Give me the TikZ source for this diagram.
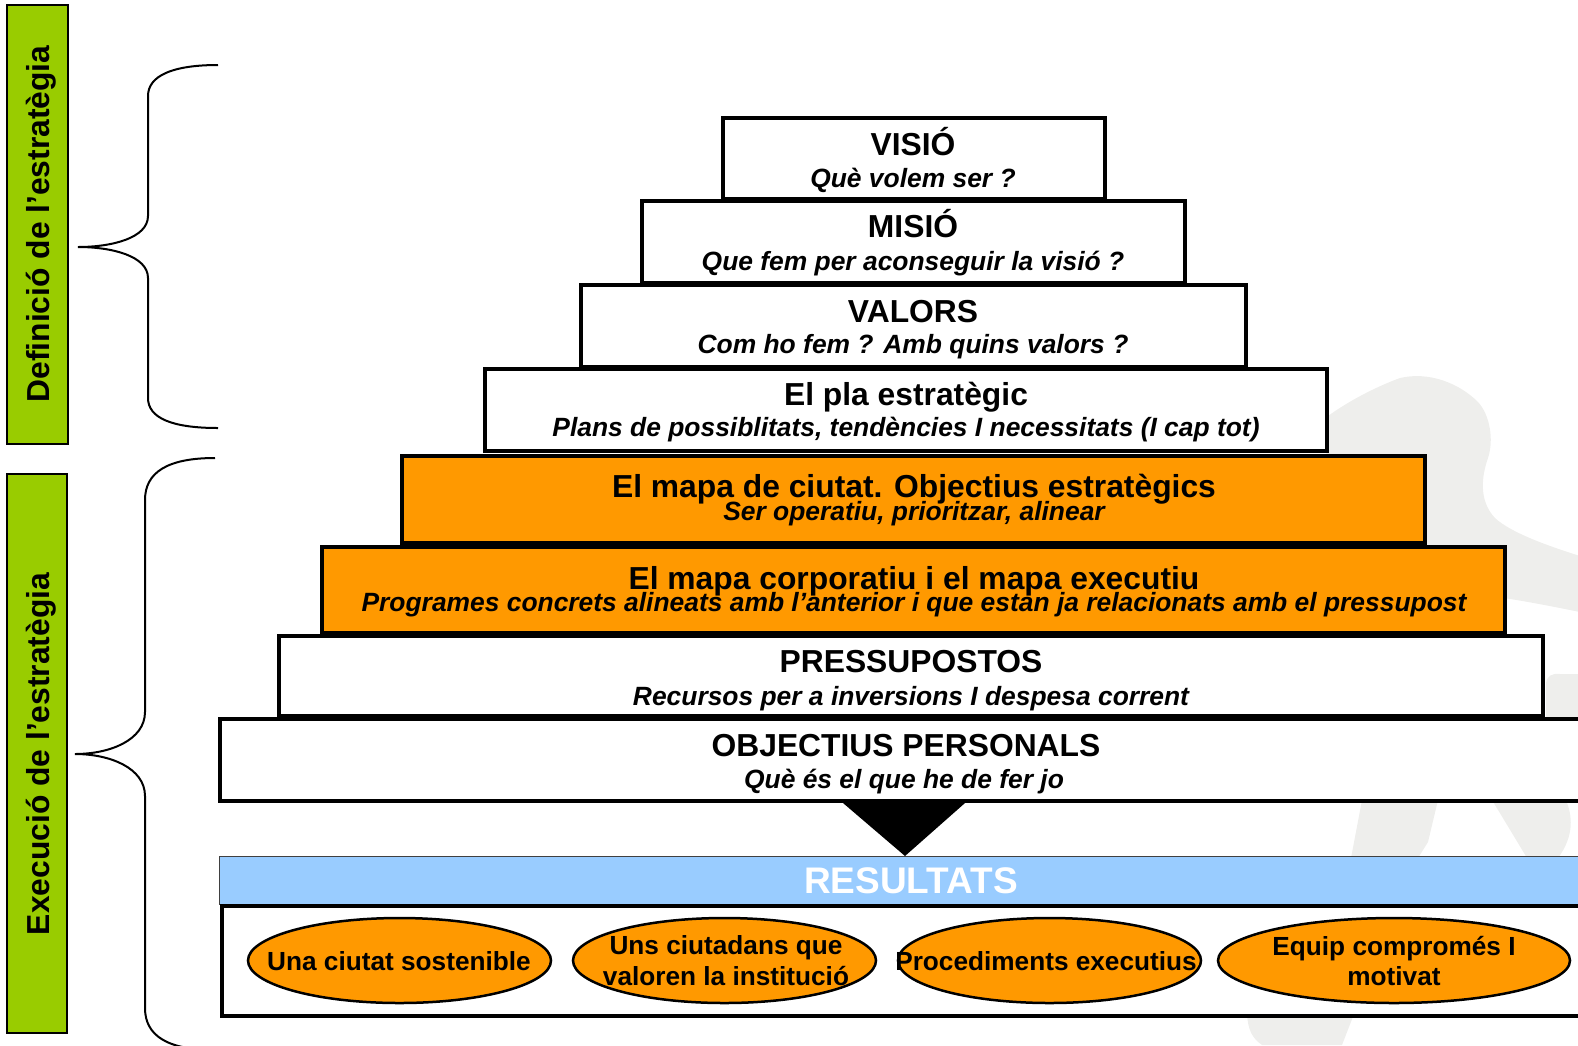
\documentclass[tikz,border=0pt]{standalone}
\usepackage{fontspec}
\setmainfont{Liberation Sans}
\usetikzlibrary{shapes.geometric}
\definecolor{org}{HTML}{FF9900}
\definecolor{grn}{HTML}{99CC00}
\definecolor{blu}{HTML}{99CCFF}
\definecolor{sil}{HTML}{EEEEEC}
\tikzset{
  pb/.style={draw=black, line width=4pt, fill=white, inner sep=0pt},
  ob/.style={pb, fill=org},
  ttl/.style={anchor=base, inner sep=0pt, font=\fontsize{31.8}{36}\selectfont\bfseries},
  sub/.style={anchor=base, inner sep=0pt, font=\fontsize{26.4}{30}\selectfont\bfseries\itshape},
  etxt/.style={anchor=base, inner sep=0pt, font=\fontsize{26.2}{30}\selectfont\bfseries},
  ell/.style={ellipse, draw=black, line width=2.5pt, fill=org, inner sep=0pt},
  grnbox/.style={draw=black, line width=2pt, fill=grn, inner sep=0pt},
  vlab/.style={anchor=base, rotate=90, inner sep=0pt, font=\fontsize{31.8}{36}\selectfont\bfseries},
  brc/.style={draw=black, line width=2pt},
}
\begin{document}
\begin{tikzpicture}[x=1pt,y=-1pt]
\useasboundingbox (0,0) rectangle (1578,1045);

% background silhouette
\fill[sil] (1328,416) .. controls (1350,400) and (1378,386) .. (1400,378)
  .. controls (1430,371) and (1460,384) .. (1478,402)
  .. controls (1490,415) and (1494,440) .. (1488,458)
  .. controls (1482,475) and (1478,500) .. (1495,518)
  .. controls (1510,532) and (1545,545) .. (1580,556) -- (1580,612)
  .. controls (1550,606) and (1520,600) .. (1490,596) -- (1320,596) -- cycle;
\fill[sil] (1546,720) -- (1546,683) .. controls (1547,676) and (1552,673) .. (1560,674) -- (1580,674) -- (1580,720) -- cycle;
\fill[sil] (1362,800) -- (1438,800) -- (1428,842) -- (1418,858) -- (1351,858) -- cycle;
\fill[sil] (1492,800) -- (1566,800) .. controls (1572,815) and (1575,835) .. (1558,858) -- (1527,858) -- cycle;
\fill[sil] (1247,1014) -- (1354,1014) -- (1342,1045) -- (1262,1045) .. controls (1252,1038) and (1248,1030) .. (1247,1014) -- cycle;

% green side labels
\node[grnbox, minimum width=61pt, minimum height=439pt] (g1) at (37.5,224.5) {};
\node[vlab] (g1t) at (49.5,224) {Definició de l’estratègia};
\node[grnbox, minimum width=60pt, minimum height=559pt] (g2) at (37,753.5) {};
\node[vlab] (g2t) at (49.5,754) {Execució de l’estratègia};

% braces
\draw[brc] (218,65) .. controls (172,65) and (148,76) .. (148,96) -- (148,216)
  .. controls (148,238) and (112,247) .. (78,247)
  .. controls (112,247) and (148,256) .. (148,278) -- (148,398)
  .. controls (148,418) and (172,428) .. (218,428);
\draw[brc] (215,458) .. controls (168,458) and (145,472) .. (145,500) -- (145,712)
  .. controls (145,740) and (110,754) .. (75,754)
  .. controls (110,754) and (145,768) .. (145,796) -- (145,1008)
  .. controls (145,1036) and (168,1050) .. (215,1050);

% pyramid
\node[pb, minimum width=382pt, minimum height=81pt] (visio) at (914,158.5) {};
\node[pb, minimum width=543pt, minimum height=82pt] (misio) at (913.5,242) {};
\node[pb, minimum width=665pt, minimum height=82pt] (valors) at (913.5,326) {};
\node[pb, minimum width=842pt, minimum height=82pt] (pla) at (906,410) {};
\node[ob, minimum width=1023pt, minimum height=87pt] (mapa) at (913.5,499.5) {};
\node[ob, minimum width=1183pt, minimum height=86pt] (corp) at (913.5,590) {};
\node[pb, minimum width=1264pt, minimum height=80pt] (press) at (911,676) {};
\node[pb, minimum width=1380pt, minimum height=82pt] (obj) at (910,760) {};

\node[ttl] (visioT) at (913,155) {VISIÓ};
\node[sub] (visioS) at (913,187) {Què volem ser ?};
\node[ttl] (misioT) at (913,237) {MISIÓ};
\node[sub] (misioS) at (913,270) {Que fem per aconseguir la visió ?};
\node[ttl] (valT) at (913,322) {VALORS};
\node[sub] (valS) at (913,353) {Com ho fem ? Amb quins valors ?};
\node[ttl] (plaT) at (906,405) {El pla estratègic};
\node[sub] (plaS) at (906,436) {Plans de possiblitats, tendències I necessitats (I cap tot)};
\node[ttl] (mapaT) at (914,497) {El mapa de ciutat. Objectius estratègics};
\node[sub] (mapaS) at (914,520) {Ser operatiu, prioritzar, alinear};
\node[ttl] (corpT) at (914,589) {El mapa corporatiu i el mapa executiu};
\node[sub] (corpS) at (914,611) {Programes concrets alineats amb l’anterior i que estan ja relacionats amb el pressupost};
\node[ttl] (pressT) at (911,672) {PRESSUPOSTOS};
\node[sub] (pressS) at (911,705) {Recursos per a inversions I despesa corrent};
\node[ttl] (objT) at (906,756) {OBJECTIUS PERSONALS};
\node[sub] (objS) at (904,788) {Què és el que he de fer jo};

% results
\node[draw=black!75, line width=1pt, fill=blu, minimum width=1380pt, minimum height=48pt, inner sep=0pt] (resbar) at (909,880) {};
\node[draw=black, line width=4.5pt, fill=white, minimum width=1378pt, minimum height=110pt, inner sep=0pt] (resbox) at (911,961) {};
\node[anchor=base, inner sep=0pt, text=white, font=\fontsize{37}{40}\selectfont\bfseries] (resT) at (911,893) {RESULTATS};

% arrow triangle from objectives to results
\coordinate (tl) at (843,803);
\coordinate (tr) at (965,803);
\coordinate (tip) at (905,856);
\fill[black] (tl) -- (tr) -- (tip) -- cycle;

% result ellipses
\node[ell, minimum width=303pt, minimum height=85pt] (e1) at (399.5,960.5) {};
\node[ell, minimum width=303pt, minimum height=85pt] (e2) at (724.5,960.5) {};
\node[ell, minimum width=303pt, minimum height=85pt] (e3) at (1049.5,960.5) {};
\node[ell, minimum width=352pt, minimum height=85pt] (e4) at (1394,960.5) {};
\node[etxt] (e1t) at (399,970) {Una ciutat sostenible};
\node[etxt] (e2a) at (726,954) {Uns ciutadans que};
\node[etxt] (e2b) at (726,985) {valoren la institució};
\node[etxt] (e3t) at (1046,970) {Procediments executius};
\node[etxt] (e4a) at (1394,955) {Equip compromés I};
\node[etxt] (e4b) at (1394,985) {motivat};
\end{tikzpicture}
\end{document}
